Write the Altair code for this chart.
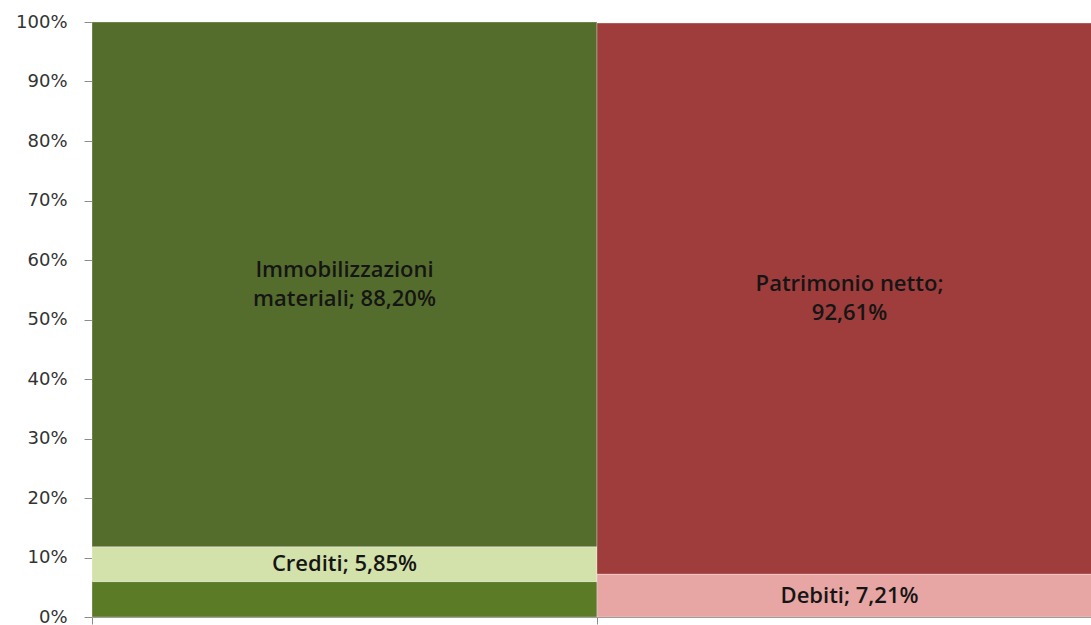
import altair as alt
import pandas as pd

columns = ["Attivo", "Attivo", "Attivo", "Passivo", "Passivo"]
items = ["Altro attivo", "Crediti", "Immobilizzazioni materiali", "Debiti", "Patrimonio netto"]
values = [5.95, 5.85, 88.20, 7.21, 92.61]
order = [1, 2, 3, 1, 2]
labels = ["", "Crediti; 5,85%", "Immobilizzazioni\nmateriali; 88,20%", "Debiti; 7,21%", "Patrimonio netto;\n92,61%"]
colors = ["#5b7b27", "#d3e1ab", "#556d2c", "#e7a6a4", "#9f3d3c"]

df = pd.DataFrame({
    "col": columns, "item": items, "value": values, "ord": order,
    "label": labels, "color": colors,
})

base = alt.Chart(df).transform_stack(
    stack="value", as_=["y0", "y1"], groupby=["col"], sort=[alt.SortField("ord")]
).transform_calculate(mid="(datum.y0 + datum.y1) / 2")

x_enc = alt.X("col:N", scale=alt.Scale(paddingInner=0, paddingOuter=0, range=[0, 1010]),
              axis=alt.Axis(title=None, labels=False, ticks=True, tickBand="extent",
                            tickSize=7, domainColor="#8c8c8c", tickColor="#8c8c8c"))

bars = base.mark_bar(stroke="#ffffff", strokeOpacity=0.3, strokeWidth=1).encode(
    x=x_enc,
    y=alt.Y("y0:Q", scale=alt.Scale(domain=[0, 100], nice=False),
            axis=alt.Axis(title=None, values=list(range(0, 101, 10)),
                          labelExpr="datum.value + '%'", grid=False,
                          tickSize=8, labelPadding=17, labelFontSize=18,
                          labelFont="DejaVu Sans", labelColor="#333333",
                          domainColor="#8c8c8c", tickColor="#8c8c8c")),
    y2="y1:Q",
    color=alt.Color("color:N", scale=None),
)

text_style = dict(font="Open Sans", fontSize=22, fontWeight=600, color="#151515",
                  lineBreak="\n", lineHeight=29)

texts_one = base.transform_filter("indexof(datum.label, '\\n') < 0").mark_text(**text_style).encode(
    x=x_enc, y=alt.Y("mid:Q"), text="label:N",
)
texts_two = base.transform_filter("indexof(datum.label, '\\n') >= 0").mark_text(dy=-14.5, **text_style).encode(
    x=x_enc, y=alt.Y("mid:Q"), text="label:N",
)

chart = alt.layer(bars, texts_one, texts_two).properties(
    width=999, height=595,
    autosize=alt.AutoSizeParams(type="none"),
    padding={"left": 92, "top": 22, "right": 0, "bottom": 8},
).configure_view(stroke=None)

chart.save("out.html", embed_options={"renderer": "svg", "actions": False})
